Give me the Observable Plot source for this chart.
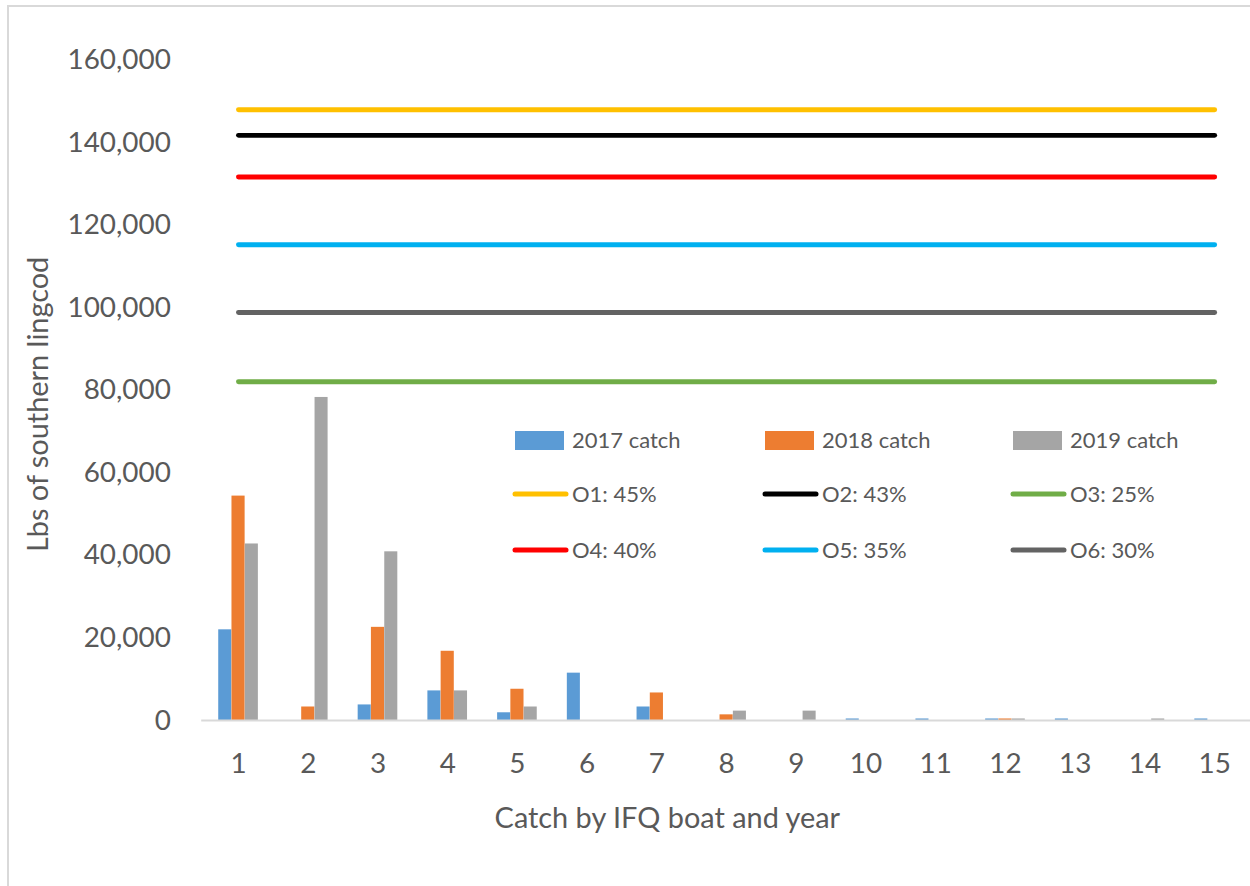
<!DOCTYPE html>
<html>
<head>
<meta charset="utf-8">
<script src="https://cdn.jsdelivr.net/npm/d3@7"></script>
<script src="https://cdn.jsdelivr.net/npm/@observablehq/plot@0.6"></script>
<style>
  html, body { margin: 0; padding: 0; background: #fff; overflow: hidden; }
  #wrap { position: relative; width: 1250px; height: 886px; overflow: hidden; font-family: Lato, "Open Sans", sans-serif; color: #595959; }
  #frame { position: absolute; left: 7px; top: 5px; width: 1300px; height: 900px; border-left: 2px solid #d9d9d9; border-top: 2px solid #d9d9d9; }
  #chart { position: absolute; left: 0; top: 0; }
  .leg { position: absolute; font-size: 22px; line-height: 22px; white-space: nowrap; display: flex; align-items: center; }
  .leg .rect { width: 49px; height: 19px; margin-right: 8px; margin-left: 3px; }
  .leg svg { margin-right: 3px; }
</style>
</head>
<body>
<div id="wrap">
  <div id="frame"></div>
  <div id="chart"></div>
</div>
<script>
// ---- data ----
const boats = [1, 2, 3, 4, 5, 6, 7, 8, 9, 10, 11, 12, 13, 14, 15];
const catch2017 = [22000, 0, 3800, 7200, 1900, 11500, 3300, 0, 0, 400, 400, 400, 400, 0, 400];
const catch2018 = [54400, 3300, 22600, 16800, 7600, 0, 6700, 1400, 0, 0, 0, 400, 0, 0, 0];
const catch2019 = [42800, 78300, 40900, 7200, 3300, 0, 0, 2300, 2300, 0, 0, 400, 0, 400, 0];
const barSeries = ["2017 catch", "2018 catch", "2019 catch"];
const optionNames = ["O1: 45%", "O2: 43%", "O3: 25%", "O4: 40%", "O5: 35%", "O6: 30%"];
const optionValues = [148000, 141800, 82100, 131700, 115300, 98900];
const yTicks = [0, 20000, 40000, 60000, 80000, 100000, 120000, 140000, 160000];

const barColors = ["#5B9BD5", "#ED7D31", "#A5A5A5"];
const lineColors = ["#FFC000", "#000000", "#70AD47", "#FF0000", "#00B0F0", "#636363"];

const toRows = (vals) => boats.map((b, i) => ({boat: b, value: vals[i]}));
const rows2017 = toRows(catch2017);
const rows2018 = toRows(catch2018);
const rows2019 = toRows(catch2019);
const lineRows = optionNames.flatMap((name, k) => boats.map(b => ({boat: b, value: optionValues[k], option: name})));

const fmt = d3.format(",");

const chart = Plot.plot({
  width: 1255,
  height: 886,
  marginLeft: 202,
  marginRight: 0,
  marginTop: 60,
  marginBottom: 163,
  style: {fontFamily: "Lato, 'Open Sans', sans-serif", fontSize: "28px", color: "#595959", background: "transparent", overflow: "visible"},
  x: {type: "band", domain: boats, padding: 0, label: null, tickSize: 0, tickPadding: 33},
  y: {domain: [0, 160000], ticks: yTicks, tickFormat: fmt, label: null, tickSize: 0, tickPadding: 31},
  color: {domain: optionNames, range: lineColors},
  marks: [
    Plot.barY(rows2017, {x: "boat", y: "value", fill: barColors[0], insetLeft: 15.1, insetRight: 41.8}),
    Plot.barY(rows2018, {x: "boat", y: "value", fill: barColors[1], insetLeft: 28.4, insetRight: 28.4}),
    Plot.barY(rows2019, {x: "boat", y: "value", fill: barColors[2], insetLeft: 41.8, insetRight: 15.1}),
    Plot.ruleY([0], {stroke: "#d9d9d9", strokeWidth: 2}),
    Plot.lineY(lineRows, {x: "boat", y: "value", z: "option", stroke: "option", strokeWidth: 5, strokeLinecap: "round"})
  ]
});
document.getElementById("chart").appendChild(chart);

const svg = d3.select(chart);
svg.append("text")
  .attr("transform", "translate(48,406) rotate(-90)")
  .attr("text-anchor", "middle")
  .attr("fill", "#595959")
  .style("font-size", "29px")
  .text("Lbs of southern lingcod");
svg.append("text")
  .attr("x", 670).attr("y", 831)
  .attr("text-anchor", "middle")
  .attr("fill", "#595959")
  .style("font-size", "29px")
  .text("Catch by IFQ boat and year");

// ---- legend ----
const wrap = document.getElementById("wrap");
const legendItems = [
  ...barSeries.map((n, i) => ({name: n, color: barColors[i], kind: "rect"})),
  ...optionNames.map((n, i) => ({name: n, color: lineColors[i], kind: "line"}))
];
const colX = [512, 762, 1010];
const rowY = [440, 494, 550];
legendItems.forEach((it, i) => {
  const el = document.createElement("div");
  el.className = "leg";
  el.style.left = colX[i % 3] + "px";
  el.style.top = (rowY[Math.floor(i / 3)] - 11) + "px";
  if (it.kind === "rect") {
    const r = document.createElement("div");
    r.className = "rect";
    r.style.background = it.color;
    el.appendChild(r);
  } else {
    const s = d3.create("svg").attr("width", 57).attr("height", 22);
    s.append("line").attr("x1", 3).attr("x2", 54).attr("y1", 11).attr("y2", 11)
      .attr("stroke", it.color).attr("stroke-width", 5).attr("stroke-linecap", "round");
    el.appendChild(s.node());
  }
  const t = document.createElement("span");
  t.textContent = it.name;
  el.appendChild(t);
  wrap.appendChild(el);
});
</script>
</body>
</html>
